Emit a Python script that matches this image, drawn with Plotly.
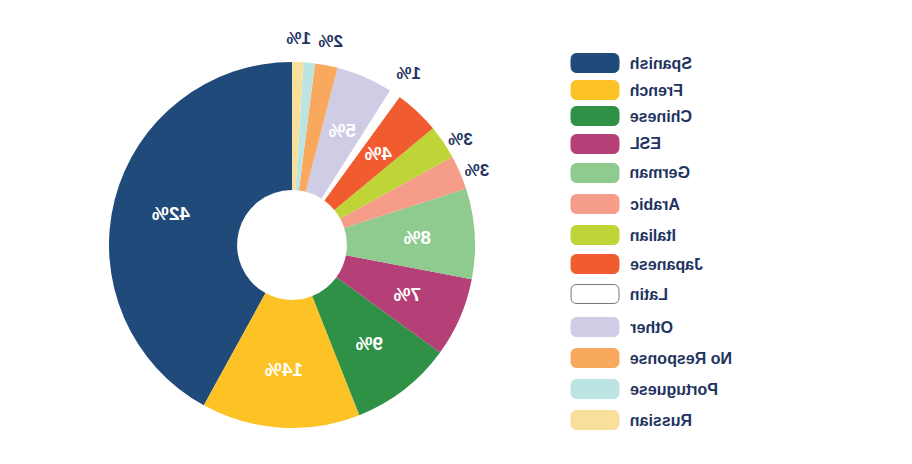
import math
import plotly.graph_objects as go

# ---- data ----
languages = ["Spanish", "French", "Chinese", "ESL", "German", "Arabic", "Italian",
             "Japanese", "Latin", "Other", "No Response", "Portuguese", "Russian"]
percents = [42, 14, 9, 7, 8, 3, 3, 4, 1, 5, 2, 1, 1]
colors = ["#1F4A79", "#FDC326", "#2E9146", "#B44077", "#8FCB8F", "#F59D88", "#BFD537",
          "#F05C30", "#FFFFFF", "#CFCDE6", "#F9A95E", "#BBE4E3", "#F9E09A"]
# where each percent label goes: inside the ring, outside the ring, beside-pie (auto), or hidden
label_place = ["in", "in", "in", "in", "in", "auto", "auto", "in", "out", "in", "out", "none", "out"]

W, H = 912, 464
NAVY = "#1F3461"
FONT = "Liberation Sans, Arial, sans-serif"

# pie geometry (drawn un-mirrored; the page is mirrored at the end like the reference)
cx, cy, r = 620, 245, 183
hole = 0.30
dom_x = [(cx - r) / W, (cx + r) / W]
dom_y = [(H - cy - r) / H, (H - cy + r) / H]

def px(x):
    return x / W
def py(y):
    return 1 - y / H

texts = [f"{p}%" if pl == "auto" else "" for p, pl in zip(percents, label_place)]
positions = ["outside" if pl == "auto" else "none" for pl in label_place]

fig = go.Figure(go.Pie(
    labels=languages, values=percents, text=texts, textinfo="text",
    textposition=positions, sort=False, direction="clockwise", rotation=0,
    hole=hole, marker=dict(colors=colors, line=dict(width=0)),
    outsidetextfont=dict(color=NAVY, size=17, family=FONT, weight="bold"),
    domain=dict(x=dom_x, y=dom_y), showlegend=False, hoverinfo="label+percent",
))

annos = []
# percent labels placed at each slice's mid-angle
total = sum(percents)
cum = 0
for p, pl in zip(percents, label_place):
    mid = (cum + p / 2) / total * 2 * math.pi
    cum += p
    if pl == "in":
        rr, col, size = 125, "white", 19
    elif pl == "out":
        rr, col, size = 207, NAVY, 17
    else:
        continue
    x = cx + rr * math.sin(mid)
    y = cy - rr * math.cos(mid)
    annos.append(dict(x=px(x), y=py(y), xref="paper", yref="paper", text=f"{p}%",
                      showarrow=False, xanchor="center", yanchor="middle",
                      font=dict(size=size, color=col, family=FONT, weight="bold")))

# custom legend (rounded swatches)
row_y = [63, 90, 116, 144, 173, 204, 235, 264, 294, 327, 358, 389, 420]
sw_x0, sw_x1, sw_h, rad = 293, 341, 19, 6
shapes = []
for name, col, yc in zip(languages, colors, row_y):
    y0, y1 = yc - sw_h / 2, yc + sw_h / 2
    path = (f"M {px(sw_x0+rad)},{py(y0)} L {px(sw_x1-rad)},{py(y0)} "
            f"Q {px(sw_x1)},{py(y0)} {px(sw_x1)},{py(y0+rad)} L {px(sw_x1)},{py(y1-rad)} "
            f"Q {px(sw_x1)},{py(y1)} {px(sw_x1-rad)},{py(y1)} L {px(sw_x0+rad)},{py(y1)} "
            f"Q {px(sw_x0)},{py(y1)} {px(sw_x0)},{py(y1-rad)} L {px(sw_x0)},{py(y0+rad)} "
            f"Q {px(sw_x0)},{py(y0)} {px(sw_x0+rad)},{py(y0)} Z")
    outline = "#777777" if col.upper() == "#FFFFFF" else col
    shapes.append(dict(type="path", path=path, xref="paper", yref="paper",
                       fillcolor=col, line=dict(color=outline, width=1)))
    annos.append(dict(x=px(284), y=py(yc), xref="paper", yref="paper", text=name,
                      showarrow=False, xanchor="right", yanchor="middle",
                      font=dict(size=16, color=NAVY, family=FONT, weight="bold")))

fig.update_layout(width=W, height=H, margin=dict(l=0, r=0, t=0, b=0),
                  paper_bgcolor="white", plot_bgcolor="white",
                  shapes=shapes, annotations=annos)

# the reference image is horizontally mirrored
post = "var gd=document.getElementById('{plot_id}'); gd.style.transform='scaleX(-1)';"
fig.write_html("out.html", post_script=post)
